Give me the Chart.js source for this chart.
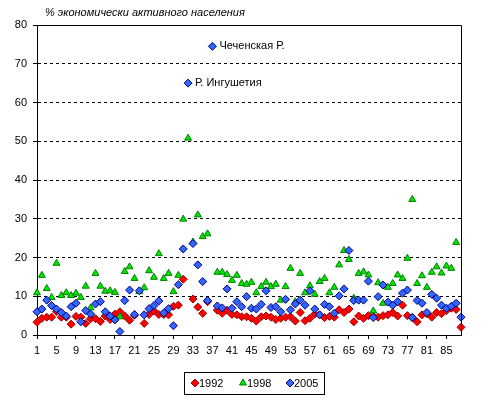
<!DOCTYPE html>
<html>
<head>
<meta charset="utf-8">
<script src="https://cdn.jsdelivr.net/npm/chart.js@4.4.0/dist/chart.umd.min.js"></script>
<style>
  html, body { margin: 0; padding: 0; background: #fff; }
  #wrap { width: 483px; height: 403px; position: relative; }
</style>
</head>
<body>
<div id="wrap"><canvas id="chart" width="483" height="403"></canvas></div>
<script>
const regions = [
  1, 2, 3, 4, 5, 6, 7, 8, 9, 10, 11, 12, 13, 14, 15, 16, 17, 18, 19, 20,
  21, 22, 23, 24, 25, 26, 27, 28, 29, 30, 31, 32, 33, 34, 35, 36, 37, 38, 39, 40,
  41, 42, 43, 44, 45, 46, 47, 48, 49, 50, 51, 52, 53, 54, 55, 56, 57, 58, 59, 60,
  61, 62, 63, 64, 65, 66, 67, 68, 69, 70, 71, 72, 73, 74, 75, 76, 77, 78, 79, 80,
  81, 82, 83, 84, 85, 86, 87, 88
];

const values1992 = [
  3.3, 4.3, 4.6, 4.6, 6.0, 4.6, 4.6, 2.8, 4.8, 4.6,
  3.0, 4.2, 4.2, 3.5, 4.9, 4.0, 5.4, 6.0, 4.9, 3.8,
  5.1, null, 3.0, 5.3, 6.2, 5.3, 5.3, 5.2, 7.4, 7.7,
  14.4, null, 9.3, 7.2, 5.6, 8.6, null, 6.4, 5.6, 6.4,
  5.3, 5.2, 4.7, 4.7, 4.3, 3.6, 4.7, 4.9, 4.6, 4.0,
  4.3, 4.6, 4.7, 3.6, 5.8, 3.7, 4.3, 5.4, 5.2, 4.5,
  4.8, 4.6, 6.5, 5.8, 6.7, 3.4, 4.9, 4.3, 5.0, 4.8,
  4.6, 5.0, 5.2, 5.8, 4.9, 7.7, 5.0, 4.5, 3.4, 5.2,
  5.5, 4.6, 5.8, 5.5, 6.3, 6.9, 6.6, 2.0
];

const values1998 = [
  10.9, 15.4, 12.0, 9.7, 18.5, 10.2, 10.9, 10.2, 10.8, 9.7,
  12.6, 7.0, 15.9, 12.6, 11.3, 11.4, 11.0, 4.7, 16.4, 17.6,
  14.6, 11.2, 12.2, 16.6, 14.9, 21.0, 14.6, 15.9, 11.2, 15.4,
  29.9, 50.8, 24.0, 31.0, 25.4, 26.1, null, 16.2, 16.2, 15.6,
  14.1, 15.4, 13.3, 13.1, 13.6, 10.9, 12.5, 13.6, 12.5, 13.1,
  9.0, 12.5, 17.2, 8.6, 15.9, 10.9, 12.7, 10.5, 13.8, 14.6,
  10.9, 12.3, 18.1, 21.8, 19.5, 9.5, 15.9, 16.3, 15.5, 6.2,
  13.5, 8.2, 12.3, 13.3, 15.5, 14.6, 19.8, 35.0, 13.3, 15.3,
  12.3, 16.2, 17.6, 16.0, 17.8, 17.2, 23.9, null
];

const values2005 = [
  6.0, 6.7, 9.0, 7.6, 6.7, 5.8, 4.9, 7.3, 8.2, 3.4,
  6.3, 5.4, 8.0, 8.6, 6.0, 4.9, 3.9, 0.9, 8.9, 11.6,
  5.3, 11.4, 5.2, 6.8, 7.6, 8.8, 5.7, 6.8, 2.4, 13.0,
  22.2, 65.0, 23.6, 18.1, 13.8, 8.9, 74.5, 7.5, 7.0, 11.9,
  6.9, 8.6, 7.3, 9.9, 6.9, 6.7, 7.9, 11.4, 7.1, 7.3,
  6.0, 9.2, 6.5, 8.0, 9.0, 7.7, 11.4, 6.7, 5.2, 7.9,
  7.3, 5.6, 10.1, 11.9, 21.8, 8.9, 9.0, 9.0, 13.9, 4.5,
  9.9, 12.9, 8.5, 7.7, 8.6, 10.8, 11.6, 4.5, 8.9, 8.2,
  5.8, 10.5, 9.5, 7.7, 6.9, 7.4, 8.2, 4.6
];

const xTicks = [1, 5, 9, 13, 17, 21, 25, 29, 33, 37, 41, 45, 49, 53, 57, 61, 65, 69, 73, 77, 81, 85];
const yTicks = [0, 10, 20, 30, 40, 50, 60, 70, 80];

// labelled regions of the 2005 series
const pointNotes = [
  { index: 31, text: 'Р. Ингушетия' },
  { index: 36, text: 'Чеченская Р.' }
];

const titleText = '% экономически активного населения';
const FONT = '"Liberation Sans", Arial, sans-serif';

const series = [
  { label: '1992', values: values1992, style: 'rectRot', fill: '#ff0000', edge: '#a00000', order: 2 },
  { label: '1998', values: values1998, style: 'triangle', fill: '#00e600', edge: '#008000', order: 1 },
  { label: '2005', values: values2005, style: 'rectRot', fill: '#3366ff', edge: '#000080', order: 0 }
];

const toPoints = vals => regions.map((r, i) => ({ x: r, y: vals[i] }));

const markerOpts = s => ({ pointStyle: s.style, radius: 4, rotation: 0, borderWidth: 1 });

const extras = {
  id: 'extras',
  afterDatasetsDraw(chart) {
    const { ctx, chartArea: a } = chart;
    ctx.save();
    // plot frame: top and right edges
    ctx.strokeStyle = '#000';
    ctx.lineWidth = 1;
    ctx.setLineDash([]);
    ctx.beginPath();
    ctx.moveTo(Math.round(a.left) + 0.5, Math.round(a.top) + 0.5);
    ctx.lineTo(Math.round(a.right) + 0.5, Math.round(a.top) + 0.5);
    ctx.lineTo(Math.round(a.right) + 0.5, Math.round(a.bottom) + 0.5);
    ctx.stroke();

    // data labels
    const meta = chart.getDatasetMeta(2);
    ctx.fillStyle = '#000';
    ctx.font = '11px ' + FONT;
    ctx.textBaseline = 'middle';
    ctx.textAlign = 'left';
    pointNotes.forEach(n => {
      const el = meta.data[n.index];
      if (el) ctx.fillText(n.text, el.x + 7, el.y);
    });
    ctx.restore();
  },
  afterDraw(chart) {
    const { ctx } = chart;
    ctx.save();
    ctx.fillStyle = '#000';
    ctx.font = 'italic 11px ' + FONT;
    ctx.textBaseline = 'middle';
    ctx.textAlign = 'left';
    ctx.fillText(titleText, 45, 13);

    // legend box
    ctx.strokeStyle = '#000';
    ctx.lineWidth = 1;
    ctx.strokeRect(184.5, 372.5, 140, 22);
    ctx.font = '11px ' + FONT;
    const xs = [195, 243, 290];
    series.forEach((s, i) => {
      ctx.fillStyle = s.fill;
      ctx.strokeStyle = s.edge;
      ctx.lineWidth = 1;
      Chart.helpers.drawPoint(ctx, markerOpts(s), xs[i], 383);
      ctx.fillStyle = '#000';
      ctx.fillText(s.label, xs[i] + 4, 383.5);
    });
    ctx.restore();
  }
};

new Chart(document.getElementById('chart'), {
  type: 'scatter',
  data: {
    datasets: series.map(s => ({
      label: s.label,
      data: toPoints(s.values),
      order: s.order,
      clip: false,
      pointStyle: s.style,
      pointRadius: 4,
      pointBackgroundColor: s.fill,
      pointBorderColor: s.edge,
      pointBorderWidth: 1,
      showLine: false
    }))
  },
  options: {
    responsive: false,
    animation: false,
    events: [],
    layout: { padding: { top: 25, right: 22, bottom: 0, left: 0 } },
    plugins: { legend: { display: false }, title: { display: false }, tooltip: { enabled: false } },
    scales: {
      x: {
        type: 'linear',
        min: 1,
        max: 88,
        afterBuildTicks: s => { s.ticks = xTicks.map(v => ({ value: v })); },
        afterFit: s => { s.height = 68; },
        ticks: { color: '#000', font: { family: FONT, size: 11 }, padding: 5, maxRotation: 0, autoSkip: false },
        grid: { drawOnChartArea: false, drawTicks: true, tickLength: 4, color: '#000' },
        border: { color: '#000', width: 1 }
      },
      y: {
        min: 0,
        max: 80,
        afterBuildTicks: s => { s.ticks = yTicks.map(v => ({ value: v })); },
        afterFit: s => { s.width = 37; },
        ticks: { color: '#000', font: { family: FONT, size: 11 }, padding: 6 },
        grid: {
          color: c => (c.tick && (c.tick.value === 0 || c.tick.value === 80)) ? 'rgba(0,0,0,0)' : '#000',
          tickColor: '#000',
          tickLength: 4,
          lineWidth: 1
        },
        border: { color: '#000', width: 1, dash: [3, 3] }
      }
    }
  },
  plugins: [extras]
});
</script>
</body>
</html>
